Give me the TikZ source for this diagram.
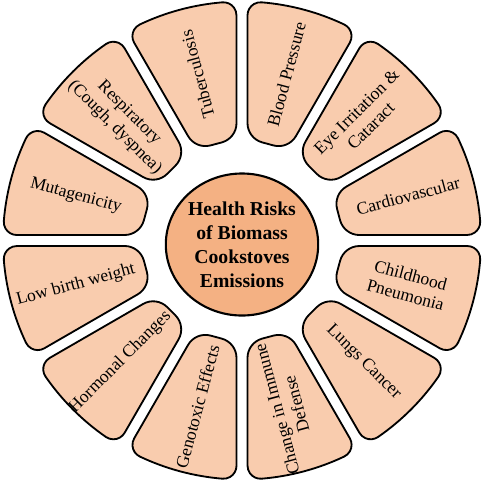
\documentclass[tikz,border=0pt]{standalone}
\usepackage{fontspec}
\setmainfont{Liberation Serif}
\usepackage{tikz}
\usetikzlibrary{shapes.geometric}
\definecolor{segfill}{HTML}{F9CCAE}
\definecolor{hubfill}{HTML}{F4B183}
\tikzstyle{seg}=[draw=black, fill=segfill, line width=1.3pt]
\tikzstyle{hub}=[ellipse, draw=black, fill=hubfill, line width=1.5pt,% the centre disc
minimum width=106pt, minimum height=101pt, inner sep=0pt, align=center,
font=\fontsize{14}{17}\selectfont\bfseries]
\tikzstyle{risk}=[align=center, font=\fontsize{12.5}{14.5}\selectfont]
% one rounded sector, pointing along the x axis
\tikzset{riskseg/.pic={
\draw[seg] (100,5.75) arc[start angle=180, end angle=105, radius=20]
 -- (218.98,52.98) arc[start angle=105, end angle=10.3, radius=13]
 arc[start angle=10.3, end angle=-10.3, radius=239]
 arc[start angle=-10.3, end angle=-105, radius=13]
 -- (114.8,-25.07) arc[start angle=-105, end angle=-180, radius=20] -- cycle;
}}

\begin{document}
\begin{tikzpicture}[x=0.025cm, y=0.025cm]
\useasboundingbox (-242,-242.5) rectangle (242,240.5);
\pic[rotate=15] at (0,0) {riskseg};
\pic[rotate=45] at (0,0) {riskseg};
\pic[rotate=75] at (0,0) {riskseg};
\pic[rotate=105] at (0,0) {riskseg};
\pic[rotate=135] at (0,0) {riskseg};
\pic[rotate=165] at (0,0) {riskseg};
\pic[rotate=195] at (0,0) {riskseg};
\pic[rotate=225] at (0,0) {riskseg};
\pic[rotate=255] at (0,0) {riskseg};
\pic[rotate=285] at (0,0) {riskseg};
\pic[rotate=315] at (0,0) {riskseg};
\pic[rotate=345] at (0,0) {riskseg};
\node[hub] (hub) at (0,-4) {Health Risks\\of Biomass\\Cookstoves\\Emissions};
\node[risk, rotate=15] (cardio) at (15:172) {Cardiovascular};
\node[risk, rotate=45] (eye) at (45:172) {Eye Irritation \&\\Cataract};
\node[risk, rotate=75] (bp) at (75:172) {Blood Pressure};
\node[risk, rotate=105] (tb) at (105:172) {Tuberculosis};
\node[risk, rotate=-45] (resp) at (135:170) {Respiratory\\(Cough, dyspnea)};
\node[risk, rotate=-15] (muta) at (165:172) {Mutagenicity};
\node[risk, rotate=15] (lbw) at (195:172) {Low birth weight};
\node[risk, rotate=45] (horm) at (225:172) {Hormonal Changes};
\node[risk, rotate=75] (geno) at (255:172) {Genotoxic Effects};
\node[risk, rotate=105] (immune) at (285:172) {Change in Immune\\Defense};
\node[risk, rotate=-45] (lung) at (315:172) {Lungs Cancer};
\node[risk, rotate=-15] (pneu) at (345:172) {Childhood\\Pneumonia};
\end{tikzpicture}
\end{document}
